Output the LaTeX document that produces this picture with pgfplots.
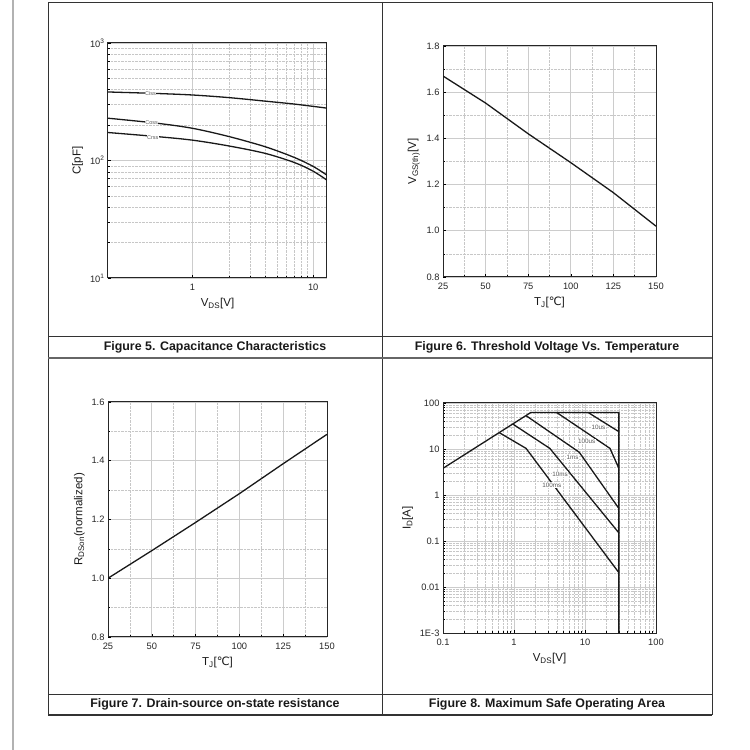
\documentclass[border=0pt]{standalone}
\usepackage{pgfplots}
\pgfplotsset{compat=1.18}
\usepackage{fontspec}
\setmainfont{Liberation Sans}
\newfontfamily\dejavu{DejaVu Sans}
\newcommand{\degC}{{\dejavu ℃}}
\tikzset{lab/.style={font=\fontsize{5.5}{6}\selectfont, text=black!65, fill=white, inner sep=0.4pt},
  figcap/.style={font=\bfseries\fontsize{12.4}{14}\selectfont, text=black!90}}
\pgfplotsset{
  panel/.style={
    scale only axis,
    anchor=south west,
    axis line style={line width=1pt, black!85},
    tick align=inside,
    xtick pos=left, ytick pos=left,
    major tick length=3pt, minor tick length=2pt,
    every tick/.style={black, line width=0.6pt},
    grid=both,
    major grid style={black!20, line width=0.9pt},
    minor grid style={black!22, densely dotted, line width=0.5pt},
    tick label style={font=\fontsize{9.3}{10}\selectfont, black!85},
    xticklabel style={anchor=north, text height=7pt, text depth=0pt, yshift=-2pt},
    label style={font=\fontsize{11.5}{13}\selectfont, black!90},
    xlabel style={yshift=-1pt},
    /pgf/number format/assume math mode=true,
    clip=true,
  },
  curve/.style={black!90, line width=1.3pt, mark=none},
}
\begin{document}
\begin{tikzpicture}
\useasboundingbox (0pt,0pt) rectangle (750pt,750pt);
% page edge and frame
\draw[black!30, line width=1.5pt] (13pt,0pt) -- (13pt,750pt);
\draw[black!80, line width=0.8pt] (48pt,748pt) -- (712pt,748pt);
\draw[black!80, line width=0.8pt] (48pt,748pt) -- (48pt,35pt);
\draw[black!80, line width=0.8pt] (382pt,748pt) -- (382pt,35pt);
\draw[black!80, line width=0.8pt] (712pt,748pt) -- (712pt,35pt);
\draw[black!80, line width=0.8pt] (48pt,414pt) -- (712pt,414pt);
\draw[black!60, line width=1.6pt] (48pt,392pt) -- (712pt,392pt);
\draw[black!80, line width=0.8pt] (48pt,56pt) -- (712pt,56pt);
\draw[black!80, line width=1.2pt] (48pt,35pt) -- (712pt,35pt);
% captions
\node[figcap] at (215pt,403pt) {Figure 5. Capacitance Characteristics};
\node[figcap] at (547pt,403pt) {Figure 6. Threshold Voltage Vs. Temperature};
\node[figcap] at (215pt,45.5pt) {Figure 7. Drain-source on-state resistance};
\node[figcap] at (547pt,45.5pt) {Figure 8. Maximum Safe Operating Area};

% ---------- Figure 5 ----------
\begin{axis}[panel, at={(108pt,472pt)}, width=219pt, height=235pt,
  xmode=log, ymode=log, xmin=0.2, xmax=13, ymin=10, ymax=1000,
  xtick={1,10}, xticklabels={1,10},
  ytick={10,100,1000},
  yticklabels={10\textsuperscript{1},10\textsuperscript{2},10\textsuperscript{3}},
  xlabel={V\textsubscript{DS}[V]}, ylabel={C[pF]},
  ]
\addplot[curve, smooth, tension=0.5] coordinates {(0.2,383) (0.5,372) (1,361) (2,343) (4,320) (7,302) (13,279)};
\addplot[curve, smooth, tension=0.5] coordinates {(0.2,229) (0.5,208) (1,188) (2,160) (4,131) (7,106) (10,89) (13,75)};
\addplot[curve, smooth, tension=0.5] coordinates {(0.2,173) (0.5,160) (1,149) (2,133) (4,115) (7,96) (10,81) (13,68)};
\node[lab] at (axis cs:0.45,369) {Ciss};
\node[lab] at (axis cs:0.46,211) {Coss};
\node[lab] at (axis cs:0.47,158) {Crss};
\end{axis}

% ---------- Figure 6 ----------
\begin{axis}[panel, at={(443pt,473pt)}, width=213pt, height=231pt,
  xmin=25, xmax=150, ymin=0.8, ymax=1.8,
  xtick={25,50,75,100,125,150}, xticklabels={25,50,75,100,125,150},
  ytick={0.8,1.0,1.2,1.4,1.6,1.8}, yticklabels={0.8,1.0,1.2,1.4,1.6,1.8},
  minor xtick={37.5,62.5,87.5,112.5,137.5}, minor ytick={0.9,1.1,1.3,1.5,1.7},
  xlabel={T\textsubscript{J}[\degC]}, ylabel={V\textsubscript{GS(th)}[V]},
  ]
\addplot[curve] coordinates {(25,1.67) (50,1.553) (75,1.42) (100,1.295) (125,1.165) (150,1.02)};
\end{axis}

% ---------- Figure 7 ----------
\begin{axis}[panel, at={(108pt,113pt)}, width=219pt, height=235pt,
  xmin=25, xmax=150, ymin=0.8, ymax=1.6,
  xtick={25,50,75,100,125,150}, xticklabels={25,50,75,100,125,150},
  ytick={0.8,1.0,1.2,1.4,1.6}, yticklabels={0.8,1.0,1.2,1.4,1.6},
  minor xtick={37.5,62.5,87.5,112.5,137.5}, minor ytick={0.9,1.1,1.3,1.5},
  xlabel={T\textsubscript{J}[\degC]}, ylabel={R\textsubscript{DSon}(normalized)},
  ]
\addplot[curve] coordinates {(25,1.0) (50,1.094) (75,1.19) (100,1.288) (125,1.39) (150,1.49)};
\end{axis}

% ---------- Figure 8 ----------
\begin{axis}[panel, at={(443pt,117pt)}, width=213pt, height=230pt,
  xmode=log, ymode=log, xmin=0.1, xmax=100, ymin=0.001, ymax=100,
  xtick={0.1,1,10,100}, xticklabels={0.1,1,10,100},
  ytick={0.001,0.01,0.1,1,10,100}, yticklabels={1E-3,0.01,0.1,1,10,100},
  xlabel={V\textsubscript{DS}[V]}, ylabel={I\textsubscript{D}[A]},
  ]
\addplot[curve] coordinates {(0.1,3.8) (1.72,62) (30,62) (30,0.001)};
\addplot[curve] coordinates {(0.62,22.7) (1.48,10.3) (30,0.0205)};
\addplot[curve] coordinates {(0.96,34.9) (3.2,10.3) (30,0.15)};
\addplot[curve] coordinates {(1.48,53) (8.3,8.5) (30,0.51)};
\addplot[curve] coordinates {(4.0,62) (22.5,10.3) (30,3.8)};
\addplot[curve] coordinates {(11.1,62) (30,23.8)};
\node[lab, font=\fontsize{6.3}{7}\selectfont] at (axis cs:15.5,29.5) {10us};
\node[lab, font=\fontsize{6.3}{7}\selectfont] at (axis cs:10.6,14.4) {100us};
\node[lab, font=\fontsize{6.3}{7}\selectfont] at (axis cs:6.7,6.6) {1ms};
\node[lab, font=\fontsize{6.3}{7}\selectfont] at (axis cs:4.45,2.87) {10ms};
\node[lab, font=\fontsize{6.3}{7}\selectfont] at (axis cs:3.4,1.65) {100ms};
\end{axis}
\end{tikzpicture}
\end{document}
